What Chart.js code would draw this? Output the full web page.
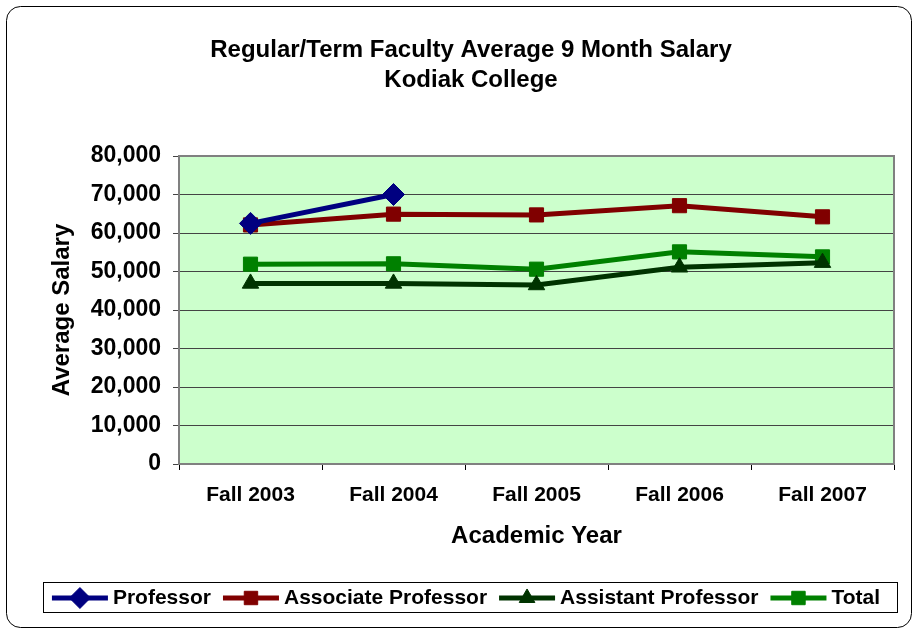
<!DOCTYPE html>
<html>
<head>
<meta charset="utf-8">
<script src="https://cdn.jsdelivr.net/npm/chart.js@4"></script>
<style>
  html, body { margin: 0; padding: 0; background: #fff; }
  #wrap { width: 918px; height: 631px; }
</style>
</head>
<body>
<div id="wrap"><canvas id="myChart" width="918" height="631"></canvas></div>
<script>
const years = ['Fall 2003', 'Fall 2004', 'Fall 2005', 'Fall 2006', 'Fall 2007'];
const professor = [62500, 70000, null, null, null];
const associate = [62100, 64900, 64700, 67100, 64200];
const assistant = [46900, 46900, 46500, 51100, 52300];
const total = [51900, 52000, 50600, 55100, 53800];
const yTicks = [0, 10000, 20000, 30000, 40000, 50000, 60000, 70000, 80000];

const FONT = 'Arial, "Liberation Sans", sans-serif';

const bgPlugin = {
  id: 'bg',
  beforeDraw(chart) {
    const {ctx, chartArea: a} = chart;
    ctx.save();
    ctx.fillStyle = '#fff';
    ctx.fillRect(0, 0, chart.width, chart.height);
    // rounded outer frame
    ctx.strokeStyle = '#000'; ctx.lineWidth = 1;
    ctx.beginPath();
    ctx.roundRect(6.5, 6.5, 905, 621, 14);
    ctx.stroke();
    ctx.fillStyle = '#CCFFCC';
    ctx.fillRect(a.left, a.top, a.right - a.left, a.bottom - a.top);
    ctx.restore();
  },
  afterDraw(chart) {
    const {ctx, chartArea: a} = chart;
    ctx.save();
    ctx.strokeStyle = '#808080'; ctx.lineWidth = 2;
    ctx.strokeRect(a.left, a.top, a.right - a.left, a.bottom - a.top);

    // legend: line + marker, then label
    const top = 582, h = 30, cy = top + h / 2 + 1;
    ctx.strokeStyle = '#000'; ctx.lineWidth = 1;
    ctx.strokeRect(43.5, top + 0.5, 854, h);
    ctx.font = 'bold 21px ' + FONT;
    ctx.textBaseline = 'middle';
    const iconW = 56, gap1 = 5, gap2 = 12;
    const items = chart.data.datasets.map(ds => ({ds, w: ctx.measureText(ds.label).width}));
    const totalW = items.reduce((s, it) => s + iconW + gap1 + it.w, 0) + gap2 * (items.length - 1);
    let x = 466 - totalW / 2;
    items.forEach(({ds, w}) => {
      ctx.strokeStyle = ds.borderColor; ctx.fillStyle = ds.backgroundColor;
      ctx.lineWidth = 5;
      ctx.beginPath(); ctx.moveTo(x, cy); ctx.lineTo(x + iconW, cy); ctx.stroke();
      ctx.lineWidth = 1;
      Chart.helpers.drawPoint(ctx, {pointStyle: ds.pointStyle, radius: ds.pointRadius * 0.95, borderWidth: 1}, x + iconW / 2, cy);
      ctx.fillStyle = '#000';
      ctx.fillText(ds.label, x + iconW + gap1, cy);
      x += iconW + gap1 + w + gap2;
    });
    ctx.restore();
  }
};

const ctx = document.getElementById('myChart');

new Chart(ctx, {
  type: 'line',
  data: {
    labels: years,
    datasets: [{
      label: 'Professor',
      data: professor,
      borderColor: '#000080', backgroundColor: '#000080',
      pointStyle: 'rectRot', pointRadius: 11
    }, {
      label: 'Associate Professor',
      data: associate,
      borderColor: '#800000', backgroundColor: '#800000',
      pointStyle: 'rect', pointRadius: 10
    }, {
      label: 'Assistant Professor',
      data: assistant,
      borderColor: '#003300', backgroundColor: '#003300',
      pointStyle: 'triangle', pointRadius: 9.5
    }, {
      label: 'Total',
      data: total,
      borderColor: '#008000', backgroundColor: '#008000',
      pointStyle: 'rect', pointRadius: 10
    }]
  },
  plugins: [bgPlugin],
  options: {
    responsive: false,
    animation: false,
    spanGaps: false,
    elements: {
      line: { borderWidth: 5, tension: 0 },
      point: { borderWidth: 1 }
    },
    layout: { padding: { left: 48, right: 24, top: 0, bottom: 80 } },
    plugins: {
      title: {
        display: true,
        text: ['Regular/Term Faculty Average 9 Month Salary', 'Kodiak College'],
        color: '#000',
        font: { family: FONT, size: 24, weight: 'bold', lineHeight: 1.25 },
        padding: { top: 35, bottom: 61 }
      },
      legend: { display: false },
      tooltip: { enabled: false }
    },
    scales: {
      x: {
        offset: true,
        grid: { offset: true, drawOnChartArea: false, drawTicks: true, tickLength: 6, color: '#000' },
        border: { color: '#808080', width: 2 },
        ticks: { color: '#000', font: { family: FONT, size: 21, weight: 'bold' }, padding: 13, maxRotation: 0 },
        title: {
          display: true, text: 'Academic Year', color: '#000',
          font: { family: FONT, size: 24, weight: 'bold' }, padding: { top: 10, bottom: 0 }
        },
        afterFit(s) { s.height = 87; }
      },
      y: {
        min: 0, max: 80000,
        afterBuildTicks(s) { s.ticks = yTicks.map(v => ({ value: v })); },
        grid: { color: '#444', lineWidth: 1, tickLength: 6, drawTicks: true },
        border: { color: '#808080', width: 2 },
        ticks: {
          color: '#000', padding: 12,
          font: { family: FONT, size: 23, weight: 'bold' },
          callback: v => v.toLocaleString('en-US')
        },
        title: {
          display: true, text: 'Average Salary', color: '#000',
          font: { family: FONT, size: 24, weight: 'bold' }, padding: { top: 0, bottom: 8 }
        },
        afterFit(s) { s.width = 131; }
      }
    }
  }
});
</script>
</body>
</html>
